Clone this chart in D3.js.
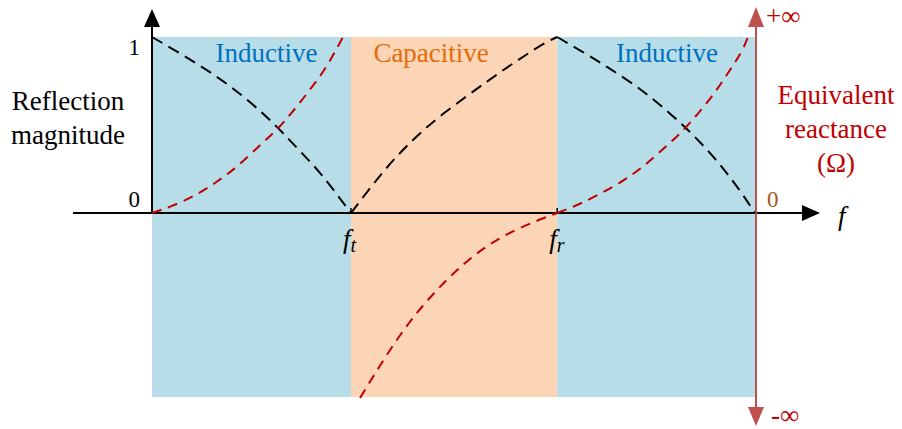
<!DOCTYPE html>
<html>
<head>
<meta charset="utf-8">
<script src="https://cdn.jsdelivr.net/npm/d3@7/dist/d3.min.js"></script>
<style>
  html, body { margin: 0; padding: 0; background: #fff; }
  svg { display: block; }
</style>
</head>
<body>
<svg id="chart" width="902" height="429"></svg>
<script>
// Frequency axis in arbitrary units: 0 = origin, 100 = right end
const fT = 33;      // transition frequency f_t
const fR = 67.2;    // resonance frequency f_r
const fEnd = 100;

// Frequency bands
const bandStart = [0, fT, fR];
const bandEnd   = [fT, fR, fEnd];
const bandName  = ["Inductive", "Capacitive", "Inductive"];

// Reflection magnitude (black dashed), one array per band
const magF1 = [0, 5.14, 9.12, 12.94, 16.25, 19.07, 21.72, 24.54, 27.86, 30.68, 33];
const magV1 = [1, 0.898, 0.812, 0.722, 0.631, 0.545, 0.455, 0.352, 0.232, 0.105, 0];
const magF2 = [33, 36.15, 38.97, 41.79, 44.78, 48.26, 52.24, 55.56, 58.87, 62.19, 65.51, 67.2];
const magV2 = [0, 0.142, 0.261, 0.366, 0.465, 0.565, 0.665, 0.747, 0.827, 0.903, 0.974, 1];
const magF3 = [67.2, 72.3, 75.6, 79.6, 82.9, 86.2, 88.9, 91.7, 95.0, 97.8, 100];
const magV3 = [1, 0.898, 0.827, 0.739, 0.653, 0.557, 0.472, 0.375, 0.244, 0.114, 0];

// Equivalent reactance (red dashed), normalised, ±1 = edge of plotted range
const xF1 = [0, 2.99, 6.80, 10.78, 14.10, 17.91, 20.73, 22.89, 26.20, 29.02, 31.67];
const xV1 = [0, 0.034, 0.091, 0.176, 0.261, 0.386, 0.472, 0.557, 0.699, 0.830, 1.0];
const xF2 = [34.5, 41.1, 46.6, 52.2, 57.7, 63.2, 67.2];
const xV2 = [-1.051, -0.682, -0.455, -0.267, -0.136, -0.051, 0];
const xF3 = [67.2, 70.6, 73.96, 77.9, 81.26, 84.58, 87.9, 90.05, 92.87, 95.52, 97.84, 98.84];
const xV3 = [0, 0.045, 0.102, 0.176, 0.256, 0.358, 0.460, 0.545, 0.659, 0.795, 0.915, 1.0];

// Tick labels
const magTicks = [0, 1];
const freqTickVals = [fT, fR];
const freqTickSub = ["t", "r"];

const serif = "'Liberation Serif', Tinos, 'Times New Roman', Times, 'DejaVu Serif', serif";
const svg = d3.select("#chart").attr("font-family", serif);

const x = d3.scaleLinear().domain([0, fEnd]).range([152, 755]);
const yMag = d3.scaleLinear().domain([0, 1]).range([213, 37]);
const yReac = d3.scaleLinear().domain([-1, 1]).range([389, 37]);

const bandColor = { Inductive: "#b7dde8", Capacitive: "#fbd5b5" };
const bandText = { Inductive: "#0070c0", Capacitive: "#e46c0a" };
const labelDx = [15, -23, 11];
const wordSize = 27;

// Background bands
const bands = bandStart.map((s, i) => ({ s, e: bandEnd[i], name: bandName[i], i }));
svg.append("g").selectAll("rect").data(bands).join("rect")
  .attr("x", d => x(d.s)).attr("width", d => x(d.e) - x(d.s))
  .attr("y", 37).attr("height", 360)
  .attr("fill", d => bandColor[d.name]);

svg.append("g").selectAll("text").data(bands).join("text")
  .attr("x", d => (x(d.s) + x(d.e)) / 2 + labelDx[d.i])
  .attr("y", 62)
  .attr("text-anchor", "middle")
  .attr("font-size", wordSize)
  .attr("fill", d => bandText[d.name])
  .text(d => d.name);

// Axes
const axisG = svg.append("g");
axisG.append("line").attr("x1", 73).attr("x2", 806).attr("y1", yMag(0)).attr("y2", yMag(0))
  .attr("stroke", "#000").attr("stroke-width", 2);
axisG.append("path").attr("d", `M820,${yMag(0)} L802,${yMag(0) - 8} L802,${yMag(0) + 8} Z`).attr("fill", "#000");
axisG.append("line").attr("x1", x(0)).attr("x2", x(0)).attr("y1", yMag(0)).attr("y2", 24)
  .attr("stroke", "#000").attr("stroke-width", 2);
axisG.append("path").attr("d", `M${x(0)},9 L${x(0) - 8},27 L${x(0) + 8},27 Z`).attr("fill", "#000");

// Frequency ticks
axisG.selectAll("line.tick").data(freqTickVals).join("line").attr("class", "tick")
  .attr("x1", d => x(d)).attr("x2", d => x(d))
  .attr("y1", yMag(0)).attr("y2", yMag(0) - 5)
  .attr("stroke", "#000").attr("stroke-width", 1.5);

const fl = axisG.selectAll("text.ftick").data(freqTickVals).join("text").attr("class", "ftick")
  .attr("x", d => x(d) - 8).attr("y", 248)
  .attr("font-size", 27).attr("font-style", "italic").attr("fill", "#000");
fl.append("tspan").text("f");
fl.append("tspan").attr("dy", 4).attr("font-size", 20).text((d, i) => freqTickSub[i]);

// Magnitude tick labels
axisG.selectAll("text.mtick").data(magTicks).join("text").attr("class", "mtick")
  .attr("x", 140).attr("y", d => d === 1 ? 55 : 207)
  .attr("text-anchor", "end").attr("font-size", 23).attr("fill", "#000")
  .text(d => d);

// Left axis title
const lt = svg.append("text").attr("font-size", wordSize).attr("text-anchor", "middle").attr("fill", "#000");
lt.append("tspan").attr("x", 68).attr("y", 110).text("Reflection");
lt.append("tspan").attr("x", 68).attr("y", 144).text("magnitude");

// Frequency symbol
svg.append("text").attr("x", 838).attr("y", 225).attr("font-size", 27)
  .attr("font-style", "italic").attr("fill", "#000").text("f");

// Right reactance axis
const rx = x(fEnd) + 1;
const red = "#c0504d";
svg.append("line").attr("x1", rx).attr("x2", rx).attr("y1", 22).attr("y2", 412)
  .attr("stroke", red).attr("stroke-width", 2);
svg.append("path").attr("d", `M${rx},7 L${rx - 8},27 L${rx + 8},27 Z`).attr("fill", red);
svg.append("path").attr("d", `M${rx},426 L${rx - 8},407 L${rx + 8},407 Z`).attr("fill", red);
svg.append("text").attr("x", 766).attr("y", 25).attr("font-size", 27).attr("fill", "#c00000").text("+∞");
svg.append("text").attr("x", 771).attr("y", 424).attr("font-size", 27).attr("fill", "#c00000").text("-∞");
svg.append("text").attr("x", 767).attr("y", 207).attr("font-size", 23).attr("fill", "#a5581a").text("0");

const rt = svg.append("text").attr("font-size", wordSize).attr("text-anchor", "middle").attr("fill", "#c00000");
rt.append("tspan").attr("x", 836).attr("y", 104).text("Equivalent");
rt.append("tspan").attr("x", 836).attr("y", 138).text("reactance");
rt.append("tspan").attr("x", 836).attr("y", 172).text("(Ω)");

// Curves
const magLine = d3.line().x(d => x(d[0])).y(d => yMag(d[1])).curve(d3.curveBasis);
const reacLine = d3.line().x(d => x(d[0])).y(d => yReac(d[1])).curve(d3.curveBasis);
const zip = (a, b) => a.map((v, i) => [v, b[i]]);

const curves = svg.append("g").attr("fill", "none");
[zip(magF1, magV1), zip(magF2, magV2), zip(magF3, magV3)].forEach(pts => {
  curves.append("path").attr("d", magLine(pts))
    .attr("stroke", "#000").attr("stroke-width", 2).attr("stroke-dasharray", "12,7");
});
[zip(xF1, xV1), zip(xF2, xV2), zip(xF3, xV3)].forEach(pts => {
  curves.append("path").attr("d", reacLine(pts))
    .attr("stroke", "#c00000").attr("stroke-width", 2).attr("stroke-dasharray", "10,7");
});
</script>
</body>
</html>
